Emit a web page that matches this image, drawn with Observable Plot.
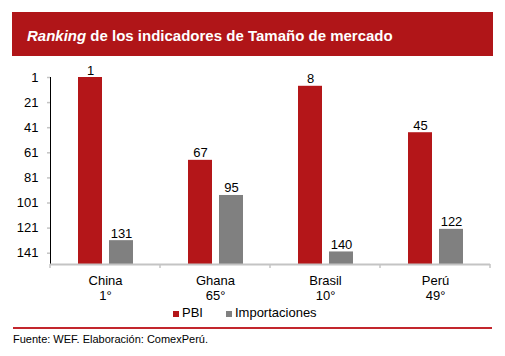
<!DOCTYPE html>
<html>
<head>
<meta charset="utf-8">
<script src="https://cdn.jsdelivr.net/npm/d3@7"></script>
<script src="https://cdn.jsdelivr.net/npm/@observablehq/plot@0.6"></script>
<style>
  html, body { margin: 0; padding: 0; background: #fff; }
  body { width: 505px; height: 356px; position: relative; overflow: hidden;
         font-family: "Liberation Sans", Arial, sans-serif; color: #000; }
  #title { position: absolute; left: 12px; top: 12px; width: 481px; height: 44px;
           box-sizing: border-box; padding: 4px 0 0 15px; line-height: 40px;
           background: #b01518; color: #fff; font-weight: bold; font-size: 15px; white-space: nowrap; }
  #chart { position: absolute; left: 0; top: 60px; }
  #legend { position: absolute; left: 173px; top: 305px; font-size: 13px; line-height: 15px; white-space: nowrap; }
  #legend .sw { display: inline-block; width: 6px; height: 6px; vertical-align: baseline; margin-right: 3px; }
  #legend .item { display: inline-block; }
  #rule { position: absolute; left: 13px; top: 327px; width: 479px; height: 2px; background: #c3262d; }
  #caption { position: absolute; left: 13px; top: 333px; font-size: 11px; line-height: 13px; white-space: nowrap; }
  #chart [aria-label^="y-axis"] line, #chart [aria-label^="y-axis"] path { stroke: #c4c4c4; stroke-width: 1.5; }
</style>
</head>
<body>
<div id="title"><i>Ranking</i> de los indicadores de Tamaño de mercado</div>
<div id="chart"></div>
<div id="legend"></div>
<div id="rule"></div>
<div id="caption">Fuente: WEF. Elaboración: ComexPerú.</div>
<script>
const countries = ["China", "Ghana", "Brasil", "Perú"];
const overallRank = ["1°", "65°", "10°", "49°"];
const series = ["PBI", "Importaciones"];
const pbi = [1, 67, 8, 45];
const importaciones = [131, 95, 140, 122];
const yTicks = [1, 21, 41, 61, 81, 101, 121, 141];
const yMin = 1, yMax = 150;
const colors = ["#b41619", "#808080"];

const rows = [];
countries.forEach((c, i) => {
  rows.push({country: c, series: "PBI", rank: pbi[i]});
  rows.push({country: c, series: "Importaciones", rank: importaciones[i]});
});
const cats = countries.map((c, i) => ({country: c, label: c + "\n" + overallRank[i]}));

const chart = Plot.plot({
  width: 505,
  height: 244,
  marginTop: 17,
  marginBottom: 40,
  marginLeft: 50,
  marginRight: 15,
  style: {fontFamily: "'Liberation Sans', Arial, sans-serif", fontSize: "13px", color: "#000", background: "transparent", overflow: "visible"},
  fx: {domain: countries, padding: 0, axis: null, label: null},
  x: {domain: series, paddingInner: 0.236, paddingOuter: 0.85, axis: null, label: null},
  y: {domain: [yMin, yMax], reverse: true, ticks: yTicks, tickSize: 3, tickPadding: 9, line: true, label: null},
  color: {domain: series, range: colors},
  marks: [
    Plot.barY(rows, {fx: "country", x: "series", y1: yMax, y2: "rank", fill: "series"}),
    Plot.ruleY([yMax], {stroke: "#c4c4c4", strokeWidth: 2}),
    Plot.text(rows, {fx: "country", x: "series", y: "rank", text: d => String(d.rank), lineAnchor: "bottom", dy: -3, fontSize: 13, fill: "#000"}),
    Plot.text(cats, {fx: "country", text: "label", frameAnchor: "bottom", lineAnchor: "top", dy: 11, lineHeight: 1.08, fontSize: 13, fill: "#000"})
  ]
});
document.getElementById("chart").appendChild(chart);

// category boundary ticks on the x axis, placed with the plot's own scales
const fx = chart.scale("fx"), y = chart.scale("y");
const edges = countries.map(c => fx.apply(c)).concat([fx.apply(countries[countries.length - 1]) + fx.bandwidth]);
const yb = y.apply(yMax);
d3.select(chart).append("g").attr("stroke", "#c4c4c4").attr("stroke-width", 1.5)
  .selectAll("line").data(edges).join("line")
  .attr("x1", d => d).attr("x2", d => d).attr("y1", yb).attr("y2", yb + 4);

// legend
const lg = d3.select("#legend");
series.forEach((s, i) => {
  const it = lg.append("span").attr("class", "item").style("margin-right", i === 0 ? "23px" : "0");
  it.append("span").attr("class", "sw").style("background", colors[i]);
  it.append("span").text(s);
});
</script>
</body>
</html>
